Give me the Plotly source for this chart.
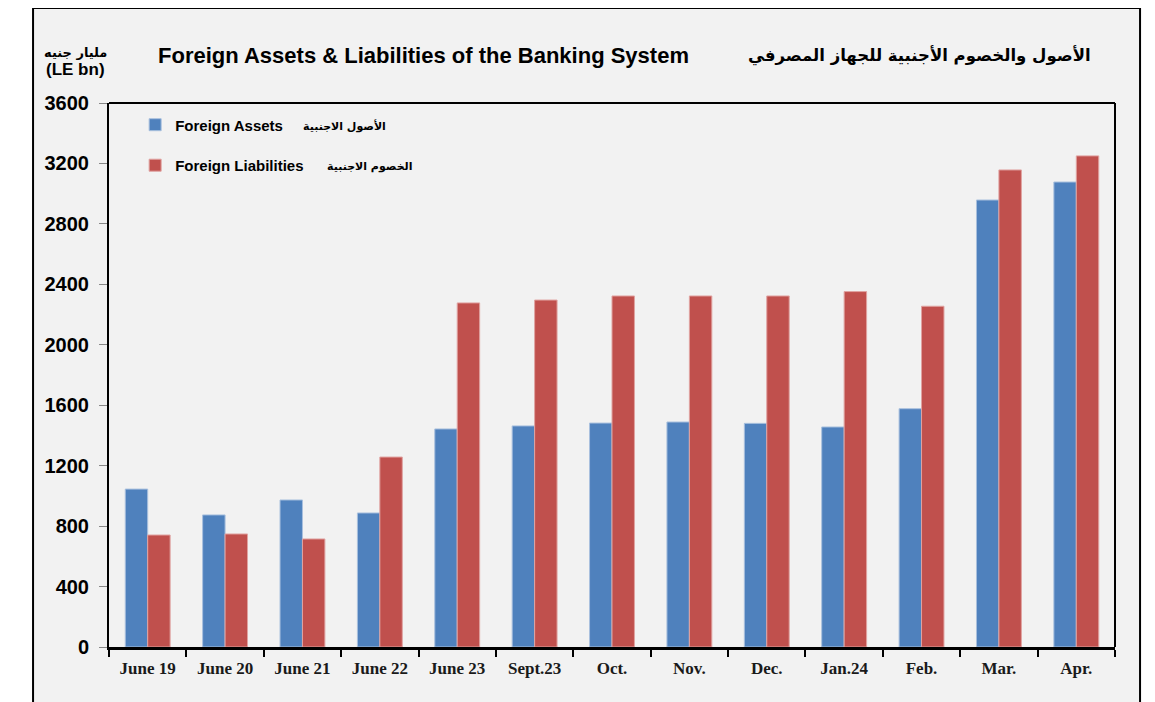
import plotly.graph_objects as go

categories = ["June 19", "June 20", "June 21", "June 22", "June 23", "Sept.23",
              "Oct.", "Nov.", "Dec.", "Jan.24", "Feb.", "Mar.", "Apr."]
foreign_assets = [1045, 874, 973, 887, 1443, 1463, 1482, 1489, 1480, 1456, 1577, 2958, 3077]
foreign_liabilities = [741, 748, 715, 1257, 2277, 2296, 2323, 2323, 2323, 2352, 2255, 3157, 3250]
y_ticks = [0, 400, 800, 1200, 1600, 2000, 2400, 2800, 3200, 3600]

BG = "#f2f2f2"
fig = go.Figure()
fig.add_trace(go.Bar(x=categories, y=foreign_assets, name="Foreign Assets",
                     legendgroup="a",
                     marker=dict(color="#4f81bd", line=dict(color="#a9c0de", width=1))))
fig.add_trace(go.Bar(x=categories, y=foreign_liabilities, name="Foreign Liabilities",
                     legendgroup="b",
                     marker=dict(color="#c0504d", line=dict(color="#e0a3a1", width=1))))

fig.update_layout(
    width=1147, height=694,
    margin=dict(l=101, r=40, t=95, b=55),
    paper_bgcolor="white", plot_bgcolor="rgba(0,0,0,0)",
    barmode="group", bargap=0.42, bargroupgap=0,
    showlegend=True,
    legend=dict(x=0.026, y=0.99, xanchor="left", yanchor="top",
                bgcolor="rgba(0,0,0,0)", traceorder="grouped", tracegroupgap=18,
                font=dict(family="Liberation Sans, Arial", size=15, color="black", weight="bold"),
                itemwidth=30),
    font=dict(family="Liberation Sans, Arial", color="black"),
    xaxis=dict(showline=True, linecolor="black", linewidth=3, mirror=False,
               ticks="outside", tickson="boundaries", ticklen=7, tickwidth=2, tickcolor="black",
               ticklabelstandoff=4,
               tickfont=dict(family="Liberation Serif, Times New Roman", size=17, color="#1a1a1a", weight="bold"),
               showgrid=False),
    yaxis=dict(range=[0, 3600], tickvals=y_ticks, showline=True, linecolor="black", linewidth=2,
               ticks="outside", ticklen=8, tickcolor="#888888", tickwidth=1,
               ticklabelstandoff=6,
               tickfont=dict(family="Liberation Sans, Arial", size=20, color="black", weight="bold"),
               showgrid=False, zeroline=False),
)

shapes = [
    # outer frame
    dict(type="rect", xref="paper", yref="paper", x0=-0.0755, x1=1.0249, y0=-0.25, y1=1.1746,
         fillcolor=BG, line=dict(color="black", width=2), layer="below"),
    # plot area top and right border
    dict(type="line", xref="paper", yref="paper", x0=0, x1=1, y0=1, y1=1,
         line=dict(color="black", width=2)),
    dict(type="line", xref="paper", yref="paper", x0=1, x1=1, y0=0, y1=1,
         line=dict(color="black", width=2)),
]
fig.update_layout(shapes=shapes)

annotations = [
    dict(text="<b>Foreign Assets & Liabilities of the Banking System</b>", xref="paper", yref="paper",
         x=0.313, y=1.087, xanchor="center", yanchor="middle", showarrow=False,
         font=dict(family="Liberation Sans, Arial", size=22, color="black")),
    dict(text="<b>الأصول والخصوم الأجنبية للجهاز المصرفي</b>", xref="paper", yref="paper",
         x=0.806, y=1.087, xanchor="center", yanchor="middle", showarrow=False,
         font=dict(family="DejaVu Sans, Arial", size=16.5, color="black")),
    dict(text="<b>مليار جنيه</b>", xref="paper", yref="paper",
         x=-0.033, y=1.092, xanchor="center", yanchor="middle", showarrow=False,
         font=dict(family="DejaVu Sans, Arial", size=13, color="black")),
    dict(text="<b>(LE bn)</b>", xref="paper", yref="paper",
         x=-0.033, y=1.062, xanchor="center", yanchor="middle", showarrow=False,
         font=dict(family="Liberation Sans, Arial", size=17, color="black")),
    dict(text="<b>الأصول الاجنبية</b>", xref="paper", yref="paper",
         x=0.234, y=0.958, xanchor="center", yanchor="middle", showarrow=False,
         font=dict(family="DejaVu Sans, Arial", size=11, color="black")),
    dict(text="<b>الخصوم الاجنبية</b>", xref="paper", yref="paper",
         x=0.259, y=0.884, xanchor="center", yanchor="middle", showarrow=False,
         font=dict(family="DejaVu Sans, Arial", size=11, color="black")),
]
fig.update_layout(annotations=annotations)

fig.write_html("out.html")
